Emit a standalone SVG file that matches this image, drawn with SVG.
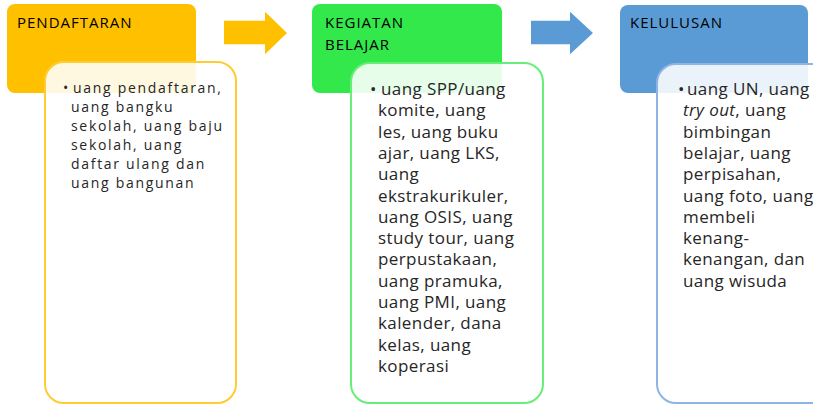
<svg xmlns="http://www.w3.org/2000/svg" width="813" height="405" viewBox="0 0 813 405">
<style>
.hdr{font-family:"Open Sans","Liberation Sans",sans-serif;font-size:15px;letter-spacing:1px;fill:#000000}
.body{font-family:"Open Sans","Liberation Sans",sans-serif;font-size:17px;letter-spacing:0.4px;fill:#262626}
.bodyY{font-family:"Open Sans","Liberation Sans",sans-serif;font-size:14px;letter-spacing:1.7px;fill:#262626}
.card{fill:#ffffff;fill-opacity:0.88;stroke-width:2}
</style>
<rect width="813" height="405" fill="#ffffff"/>
<g id="connectors">
<polygon points="224,20.7 265,20.7 265,11.7 287,33 265,54.3 265,44.3 224,44.3" fill="#FFC000"/>
<polygon points="531,20.7 570,20.7 570,11.7 593,33 570,54.3 570,44.3 531,44.3" fill="#5B9BD5"/>
</g>
<g id="pendaftaran">
<rect x="7" y="4" width="189" height="89" rx="8" fill="#FFC000"/>
<text class="hdr" x="17" y="28">PENDAFTARAN</text>
<rect class="card" x="45" y="62" width="191" height="341" rx="19" stroke="#FFCC33"/>
<text class="bodyY">
<tspan x="63" y="93">•</tspan><tspan x="73" y="93">uang pendaftaran,</tspan>
<tspan x="71" y="112">uang bangku</tspan>
<tspan x="71" y="131">sekolah, uang baju</tspan>
<tspan x="71" y="150">sekolah, uang</tspan>
<tspan x="71" y="169">daftar ulang dan</tspan>
<tspan x="71" y="188">uang bangunan</tspan>
</text>
</g>
<g id="kegiatan-belajar">
<rect x="312" y="4" width="190" height="89" rx="8" fill="#33E84B"/>
<text class="hdr"><tspan x="325" y="28">KEGIATAN</tspan><tspan x="325" y="50">BELAJAR</tspan></text>
<rect class="card" x="351" y="63" width="192" height="340" rx="19" stroke="#66EE77"/>
<text class="body">
<tspan x="370" y="95">•</tspan><tspan x="381" y="95">uang SPP/uang</tspan>
<tspan x="378" y="116.3">komite, uang</tspan>
<tspan x="378" y="137.6">les, uang buku</tspan>
<tspan x="378" y="158.9">ajar, uang LKS,</tspan>
<tspan x="378" y="180.2">uang</tspan>
<tspan x="378" y="201.5">ekstrakurikuler,</tspan>
<tspan x="378" y="222.8">uang OSIS, uang</tspan>
<tspan x="378" y="244.1">study tour, uang</tspan>
<tspan x="378" y="265.4">perpustakaan,</tspan>
<tspan x="378" y="286.7">uang pramuka,</tspan>
<tspan x="378" y="308">uang PMI, uang</tspan>
<tspan x="378" y="329.3">kalender, dana</tspan>
<tspan x="378" y="350.6">kelas, uang</tspan>
<tspan x="378" y="371.9">koperasi</tspan>
</text>
</g>
<g id="kelulusan">
<rect x="620" y="5" width="188" height="88" rx="8" fill="#5B9BD5"/>
<text class="hdr" x="630" y="28">KELULUSAN</text>
<rect class="card" x="657" y="64" width="200" height="339" rx="19" stroke="#8DB4E2"/>
<text class="body">
<tspan x="678" y="95">•</tspan><tspan x="687" y="95">uang UN, uang</tspan>
<tspan x="683" y="116.3" font-style="italic">try out</tspan><tspan>, uang</tspan>
<tspan x="683" y="137.6">bimbingan</tspan>
<tspan x="683" y="158.9">belajar, uang</tspan>
<tspan x="683" y="180.2">perpisahan,</tspan>
<tspan x="683" y="201.5">uang foto, uang</tspan>
<tspan x="683" y="222.8">membeli</tspan>
<tspan x="683" y="244.1">kenang-</tspan>
<tspan x="683" y="265.4">kenangan, dan</tspan>
<tspan x="683" y="286.7">uang wisuda</tspan>
</text>
</g>
</svg>
